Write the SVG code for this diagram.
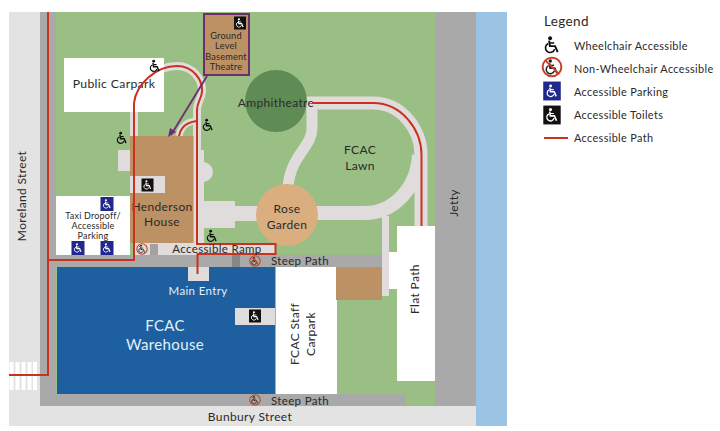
<svg xmlns="http://www.w3.org/2000/svg" width="720" height="431" viewBox="0 0 720 431">
<style>
text{font-family:"Lato","Liberation Sans",sans-serif;fill:#2a2a2a;text-anchor:middle;letter-spacing:.35px}
.s{font-size:12px}.xs{font-size:9px;letter-spacing:.2px}.l{font-size:10.900px;text-anchor:start}
.w{fill:#e1f0fa}
.lp{fill:none;stroke:#e0dcdc}
.r{fill:none;stroke:#c8321e;stroke-width:2}
.g{fill:#a9a9a9}.br{fill:#bc9164}.wh{fill:#fff}.pv{fill:#e0dcdc}
</style>
<defs>
<symbol id="chair" viewBox="0 0 24 24">
<circle cx="9.500" cy="3" r="2.600"/>
<path d="M8.200 6.200L9.200 13.500H16L19.500 21.500" fill="none" stroke="currentColor" stroke-width="2.600"/>
<path d="M9 9.500H15" stroke="currentColor" stroke-width="2"/>
<path d="M7 10A6.200 6.200 0 1 0 15.500 17.500" fill="none" stroke="currentColor" stroke-width="2.200"/>
</symbol>
<g id="ic-plain" color="#111" fill="#111"><use href="#chair" x="-6.500" y="-7" width="13" height="14"/></g>
<g id="ic-park" color="#fff" fill="#fff"><rect x="-6.500" y="-7" width="13" height="14" fill="#20288c"/><use href="#chair" x="-5" y="-6" width="10" height="12"/></g>
<g id="ic-toilet" color="#fff" fill="#fff"><rect x="-6" y="-6.500" width="12" height="13" fill="#111"/><use href="#chair" x="-5" y="-5.500" width="10" height="11"/></g>
<g id="ic-no" color="#222" fill="#222"><use href="#chair" x="-4.500" y="-5" width="9" height="10"/><circle r="5.200" fill="none" stroke="#c8402a" stroke-width="1.100"/><path d="M-3.600 -3.600L3.600 3.600" stroke="#c8402a" stroke-width="1"/></g>
</defs>

<g id="ground">
<rect x="9" y="12" width="467" height="414" fill="#e3e3e3"/>
<rect x="476" y="12" width="31" height="414" fill="#9bc3e3"/>
<rect x="40" y="12" width="436" height="394" class="g"/>
<rect x="56" y="12" width="379" height="394" fill="#99bf85"/>
<rect x="40" y="394" width="365" height="12" class="g"/>
<rect x="40" y="255" width="342" height="12" class="g"/>
<rect x="9" y="362" width="27" height="28" fill="#e3e3e3"/>
<path d="M11.500 362V390M17.500 362V390M23.500 362V390M29.500 362V390M35 362V390" stroke="#fff" stroke-width="4"/>
</g>

<g id="paths">
<path class="lp" stroke-width="8" d="M134 136V103C136 85 155 66 177 66C193 66 203 80 202 92C201 100 197 102 197 110V244"/>
<path class="lp" stroke-width="7" d="M179 136C181 126 188 121 197 121"/>
<circle cx="203" cy="172" r="10" class="pv"/>
<rect x="193" y="150" width="11" height="94" class="pv"/>
<rect x="203" y="201" width="32" height="27" class="pv"/>
<rect x="235" y="206" width="24" height="15" class="pv"/>
<rect x="118" y="150" width="14" height="21" class="pv"/>
<path class="lp" stroke-width="13" d="M305 103H373C402 103 421 130 421 155V228"/>
<path class="lp" stroke-width="11" d="M312 107V128C312 148 290 155 288 188"/>
<path class="lp" stroke-width="14" d="M315 213H365C392 213 417 190 419 155"/>
<rect x="382" y="216" width="7" height="80" class="pv"/>
<rect x="134" y="243" width="141" height="12" class="pv"/>
</g>

<g id="amphitheatre"><circle cx="276" cy="101" r="31" fill="#5f8b55"/><text class="s" x="276" y="107">Amphitheatre</text></g>
<g id="rose-garden"><circle cx="287" cy="215" r="31" fill="#dbae7f"/><text class="s" x="287" y="213">Rose</text><text class="s" x="287" y="229">Garden</text></g>
<g id="public-carpark"><rect x="64" y="58" width="100" height="54" class="wh"/><text x="114" y="88" style="font-size:12.200px">Public Carpark</text></g>
<g id="taxi"><rect x="56" y="196" width="74" height="59" class="wh"/><text class="xs" x="93" y="219">Taxi Dropoff/</text><text class="xs" x="93" y="229">Accessible</text><text class="xs" x="93" y="239">Parking</text></g>
<g id="henderson-house"><rect x="130" y="136" width="63.500" height="107" class="br"/><rect x="130" y="176" width="35" height="17" class="pv"/><text x="162" y="211" style="font-size:12px">Henderson</text><text x="162" y="226" style="font-size:12px">House</text></g>
<g id="warehouse"><rect x="57" y="267" width="218" height="127" fill="#1d5f9f"/><rect x="188" y="267" width="21" height="14" class="pv"/><rect x="235" y="308" width="40" height="17" class="pv"/>
<text class="w" x="198" y="295" style="font-size:11.500px">Main Entry</text><text class="w" x="165" y="331" style="font-size:15px">FCAC</text><text class="w" x="165" y="350" style="font-size:15px">Warehouse</text></g>
<g id="staff-carpark"><rect x="276" y="267" width="61" height="127" class="wh"/><text class="s" transform="translate(299 334) rotate(-90)">FCAC Staff</text><text class="s" transform="translate(315 334) rotate(-90)">Carpark</text></g>
<g id="brown-block"><rect x="336" y="267" width="46" height="33" class="br"/></g>
<g id="flat-path"><rect x="397" y="226" width="38" height="155" class="wh"/><rect x="389" y="252" width="9" height="37" class="wh"/><text class="s" transform="translate(419 289) rotate(-90)">Flat Path</text></g>
<g id="stairs" stroke="#666" stroke-width="1"><path d="M151 244V255M153 244V255M155 244V255M157 244V255M233 255V267M235 255V267M237 255V267M239 255V267"/></g>

<g id="connectors">
<path class="r" d="M9 375H48V12"/>
<path class="r" d="M48 260H134V103C136 85 155 66 177 66C193 66 203 80 202 92C201 100 197 102 197 110V244H275.500V254H197.500V274"/>
<path class="r" d="M179 136C181 126 188 122 197 121"/>
<path class="r" d="M312 103H373C402 103 421.500 130 421.500 155V226"/>
</g>

<g id="theatre"><rect x="204" y="14" width="45" height="61" class="br" stroke="#6e2d6e" stroke-width="2"/>
<text class="xs" x="226" y="39" style="font-size:9.200px">Ground</text><text class="xs" x="226" y="49" style="font-size:9.200px">Level</text><text class="xs" x="226" y="60" style="font-size:9.200px">Basement</text><text class="xs" x="226" y="70" style="font-size:9.200px">Theatre</text>
<path d="M207 76L171 135" stroke="#6e2d6e" stroke-width="1.800" fill="none"/><path d="M168 137L170 128L176 132Z" fill="#6e2d6e"/></g>

<g id="icons">
<use href="#ic-toilet" x="240" y="23"/><use href="#ic-toilet" x="147.500" y="185"/><use href="#ic-toilet" x="255" y="316"/>
<use href="#ic-plain" x="155" y="66"/><use href="#ic-plain" x="122" y="138"/><use href="#ic-plain" x="208" y="125"/><use href="#ic-plain" x="212" y="236"/>
<use href="#ic-park" x="107" y="204"/><use href="#ic-park" x="78" y="248"/><use href="#ic-park" x="107" y="248"/>
<use href="#ic-no" x="142" y="249"/><use href="#ic-no" x="255" y="261"/><use href="#ic-no" x="255" y="400"/>
</g>

<g id="labels">
<text class="s" transform="translate(26 196) rotate(-90)">Moreland Street</text>
<text class="s" x="360" y="154">FCAC</text><text class="s" x="360" y="170">Lawn</text>
<text x="217" y="253" style="font-size:11.500px">Accessible Ramp</text>
<text x="300" y="265" style="font-size:11.500px">Steep Path</text>
<text x="300" y="405" style="font-size:11.500px">Steep Path</text>
<text class="s" x="250" y="421">Bunbury Street</text>
<text class="s" transform="translate(458 203) rotate(-90)">Jetty</text>
</g>

<g id="legend">
<text x="544" y="26" style="font-size:13.500px;text-anchor:start">Legend</text>
<use href="#ic-plain" transform="translate(552 45) scale(1.400)"/><text class="l" x="574" y="50">Wheelchair Accessible</text>
<use href="#ic-no" transform="translate(552 67) scale(1.800)"/><text class="l" x="574" y="73">Non-Wheelchair Accessible</text>
<use href="#ic-park" transform="translate(552 91) scale(1.350)"/><text class="l" x="574" y="96">Accessible Parking</text>
<use href="#ic-toilet" transform="translate(552 115) scale(1.450)"/><text class="l" x="574" y="119">Accessible Toilets</text>
<path class="r" d="M544 138H568"/><text class="l" x="574" y="142">Accessible Path</text>
</g>
</svg>
